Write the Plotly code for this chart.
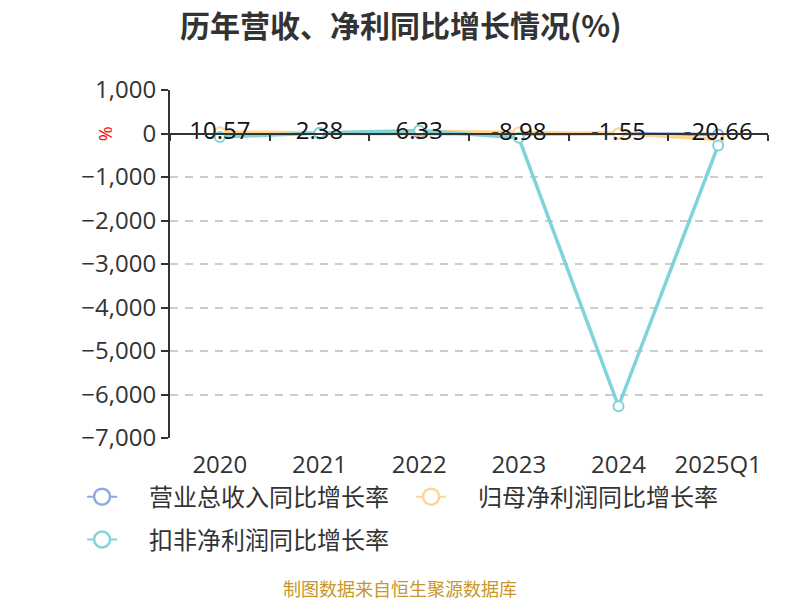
import plotly.graph_objects as go

categories = ["2020", "2021", "2022", "2023", "2024", "2025Q1"]
revenue_growth = [10.57, 2.38, 6.33, -8.98, -1.55, -20.66]
parent_np_growth = [30, 20, 50, 30, 0, -140]
deducted_np_growth = [-80, 10, 70, -100, -6270, -275]
revenue_labels = ["10.57", "2.38", "6.33", "-8.98", "-1.55", "-20.66"]
series_names = ["营业总收入同比增长率", "归母净利润同比增长率", "扣非净利润同比增长率"]

FONT = "Open Sans, Noto Sans CJK SC"
CJK = "Noto Sans CJK SC"
C_BLUE = "#8FAADC"
C_ORANGE = "#FFD591"
C_CYAN = "#7FD3D9"
colors = [C_BLUE, C_ORANGE, C_CYAN]
series = [revenue_growth, parent_np_growth, deducted_np_growth]

fig = go.Figure()

for name, y, color in zip(series_names, series, colors):
    fig.add_trace(go.Scatter(
        x=categories, y=y, name=name, mode="lines+markers",
        line=dict(color=color, width=3.5),
        marker=dict(symbol="circle", size=10, color="white",
                    line=dict(color=color, width=2)),
        showlegend=False, cliponaxis=False,
    ))

# data labels for revenue growth
fig.add_trace(go.Scatter(
    x=categories, y=revenue_growth, mode="text", text=revenue_labels,
    textposition="middle center", showlegend=False, hoverinfo="skip",
    textfont=dict(size=24, color="#111", family=FONT), cliponaxis=False,
))

PAD = "\u00a0" * 5
# legend entries (bigger legend markers)
for i, (name, color) in enumerate(zip(series_names, colors)):
    fig.add_trace(go.Scatter(
        x=categories, y=[None] * len(categories), name=PAD + name,
        mode="lines+markers",
        line=dict(color=color, width=2),
        marker=dict(symbol="circle", size=22, color="white",
                    line=dict(color=color, width=2.5)),
        legend="legend" if i < 2 else "legend2",
    ))

YMIN, YMAX = -7000, 1000
zero_pos = (0 - YMIN) / (YMAX - YMIN)

fig.update_layout(
    width=792, height=592,
    margin=dict(l=162, r=32, t=82, b=162),
    paper_bgcolor="white", plot_bgcolor="white",
    font=dict(family=FONT, color="#333"),
    title=dict(text="<b>历年营收、净利同比增长情况(%)</b>", x=0.496, xanchor="center",
               xref="container", y=0.968, yanchor="middle",
               font=dict(size=30, color="#333", family=CJK)),
    xaxis=dict(type="category", categoryorder="array", categoryarray=categories,
               range=[-0.5, 5.5], showline=False, ticks="", showgrid=False,
               tickfont=dict(size=24, color="#333"), ticklabelstandoff=10),
    xaxis2=dict(type="category", categoryorder="array", categoryarray=categories,
                range=[-0.5, 5.5], overlaying="x", anchor="free", position=zero_pos,
                showline=True, linecolor="#333", linewidth=2, ticks="outside",
                tickson="boundaries", ticklen=6, tickcolor="#333", tickwidth=2,
                showticklabels=False, showgrid=False, zeroline=False),
    yaxis=dict(range=[YMIN, YMAX], dtick=1000, tick0=0, tickformat=",",
               showline=True, linecolor="#333", linewidth=2, ticks="outside",
               ticklen=7, tickcolor="#333", tickwidth=2,
               gridcolor="#cccccc", griddash="8px,7px", gridwidth=1.5,
               zeroline=False, tickfont=dict(size=24, color="#333")),
    legend=dict(orientation="h", x=-0.147, xanchor="left", y=-0.105, yanchor="top",
                font=dict(size=24, color="#333", family=CJK), itemsizing="trace",
                entrywidth=284, entrywidthmode="pixels",
                bgcolor="rgba(0,0,0,0)"),
    legend2=dict(orientation="h", x=-0.147, xanchor="left", y=-0.228, yanchor="top",
                 font=dict(size=24, color="#333", family=CJK), itemsizing="trace",
                 bgcolor="rgba(0,0,0,0)"),
    showlegend=True,
)

# helper so the zero-line axis is drawn
fig.add_trace(go.Scatter(x=categories, y=[0] * len(categories), xaxis="x2",
                         mode="none", showlegend=False, hoverinfo="skip"))

fig.add_annotation(text="%", xref="paper", yref="y", x=-0.109, xanchor="center",
                   y=0, yanchor="middle", textangle=-90, showarrow=False,
                   font=dict(size=18, color="red", family=FONT))
fig.add_annotation(text="制图数据来自恒生聚源数据库", xref="paper", yref="paper",
                   x=0.3846, xanchor="center", y=-0.431, yanchor="middle",
                   showarrow=False, font=dict(size=18, color="#C8962A", family=CJK))

fig.write_html("out.html")
